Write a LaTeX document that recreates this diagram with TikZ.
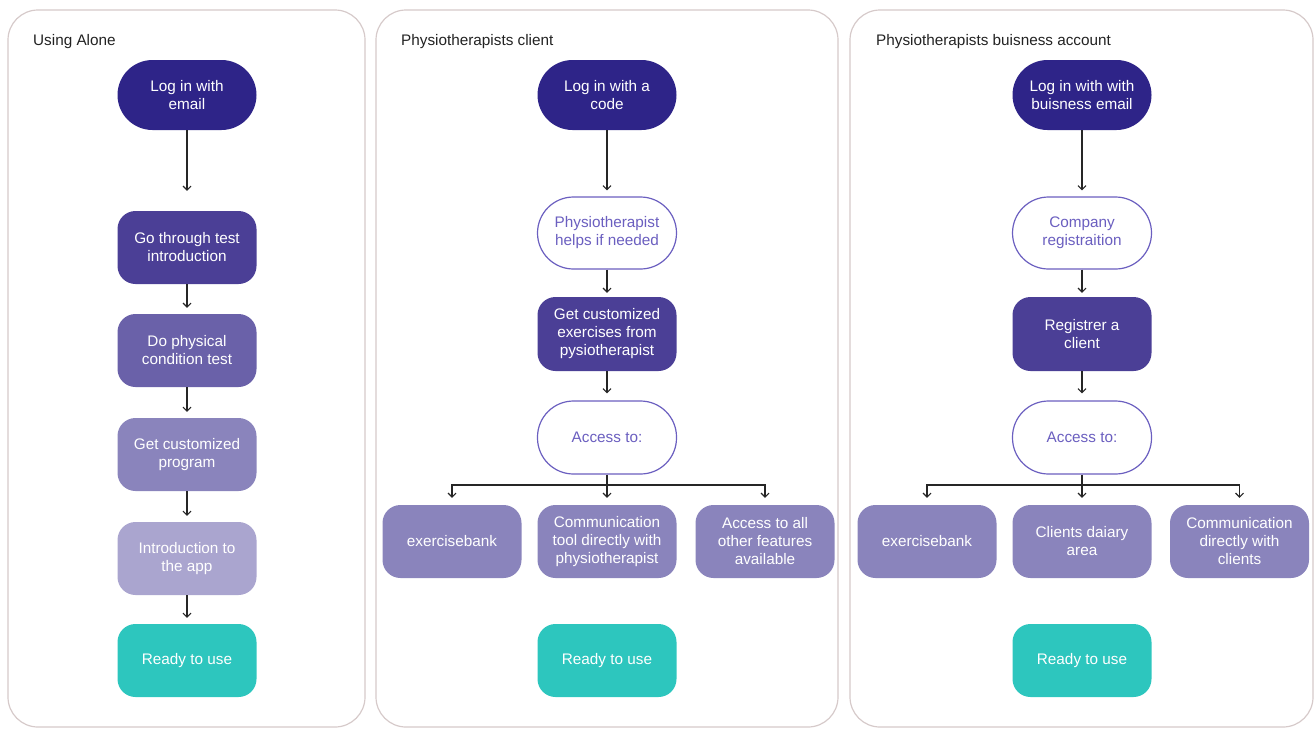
\documentclass[tikz,border=0pt]{standalone}
\usepackage{fontspec}
\setmainfont{Liberation Sans}
\usetikzlibrary{arrows.meta}
\definecolor{panelline}{HTML}{D6CACA}
\definecolor{navy}{HTML}{2E2488}
\definecolor{violetA}{HTML}{4B3F96}
\definecolor{violetB}{HTML}{6A61A9}
\definecolor{violetC}{HTML}{8A84BC}
\definecolor{violetD}{HTML}{AAA5CF}
\definecolor{teal}{HTML}{2DC6BE}
\definecolor{outlinec}{HTML}{6B5FC0}
\definecolor{titletext}{HTML}{222222}
\newcommand{\boxfont}{\fontsize{15.3}{18}\selectfont}
\tikzset{
  panel/.style={draw=panelline, line width=1.2pt, rounded corners=30pt},
  paneltitle/.style={anchor=base west, inner sep=0pt, text=titletext, font=\boxfont},
  boxbase/.style={minimum width=139pt, minimum height=73pt, inner sep=0pt,
    align=center, text=white, font=\boxfont},
  pill/.style={boxbase, minimum height=70pt, rounded corners=35pt, fill=navy},
  card/.style={boxbase, rounded corners=18pt},
  hollow/.style={boxbase, minimum height=72pt, rounded corners=36pt, draw=outlinec,
    line width=1.2pt, fill=white, text=outlinec},
  arr/.style={draw=black!85, line width=1.1pt, -{Straight Barb[length=4pt,width=8pt]}},
  link/.style={draw=black!85, line width=1.1pt},
}
\begin{document}
\begin{tikzpicture}[x=1pt,y=-1pt]
\useasboundingbox (0,0) rectangle (1314,729);

% three column frames
\draw[panel] (8,10) rectangle (365,727);
\draw[panel] (376,10) rectangle (838,727);
\draw[panel] (850,10) rectangle (1313,727);

\node[paneltitle] (t1) at (33,45) {Using Alone};
\node[paneltitle] (t2) at (401,45) {Physiotherapists client};
\node[paneltitle] (t3) at (876,45) {Physiotherapists buisness account};

% --- column 1: using the app alone
\node[pill] (a1) at (187,95) {Log in with\\email};
\node[card, fill=violetA] (a2) at (187,247.5) {Go through test\\introduction};
\node[card, fill=violetB] (a3) at (187,350.5) {Do physical\\condition test};
\node[card, fill=violetC] (a4) at (187,454.5) {Get customized\\program};
\node[card, fill=violetD] (a5) at (187,558.5) {Introduction to\\the app};
\node[card, fill=teal] (a6) at (187,660.5) {Ready to use};

\draw[arr, shorten >=20pt] (a1) -- (a2);
\draw[arr, shorten >=6pt] (a2) -- (a3);
\draw[arr, shorten >=6pt] (a3) -- (a4);
\draw[arr, shorten >=6pt] (a4) -- (a5);
\draw[arr, shorten >=6pt] (a5) -- (a6);

% --- column 2: client of a physiotherapist
\node[pill] (b1) at (607,95) {Log in with a\\code};
\node[hollow] (b2) at (607,233) {Physiotherapist\\helps if needed};
\node[card, fill=violetA, minimum height=74pt] (b3) at (607,334) {Get customized\\exercises from\\pysiotherapist};
\node[hollow, minimum height=73pt] (b4) at (607,437.5) {Access to:};
\node[card, fill=violetC] (b5) at (452,541.5) {exercisebank};
\node[card, fill=violetC] (b6) at (607,541.5) {Communication\\tool directly with\\physiotherapist};
\node[card, fill=violetC] (b7) at (765,541.5) {Access to all\\other features\\available};
\node[card, fill=teal] (b8) at (607,660.5) {Ready to use};
\coordinate (bj) at (607,485);

\draw[arr, shorten >=6pt] (b1) -- (b2);
\draw[arr, shorten >=4pt] (b2) -- (b3);
\draw[arr, shorten >=7pt] (b3) -- (b4);
\draw[link] (b4) -- (bj);
\draw[arr, shorten >=7pt] (bj) -| (b5);
\draw[arr, shorten >=7pt] (bj) -- (b6);
\draw[arr, shorten >=7pt] (bj) -| (b7);

% --- column 3: physiotherapist business account
\node[pill] (c1) at (1082,95) {Log in with with\\buisness email};
\node[hollow] (c2) at (1082,233) {Company\\registraition};
\node[card, fill=violetA, minimum height=74pt] (c3) at (1082,334) {Registrer a\\client};
\node[hollow, minimum height=73pt] (c4) at (1082,437.5) {Access to:};
\node[card, fill=violetC] (c5) at (927,541.5) {exercisebank};
\node[card, fill=violetC] (c6) at (1082,541.5) {Clients daiary\\area};
\node[card, fill=violetC] (c7) at (1239.5,541.5) {Communication\\directly with\\clients};
\node[card, fill=teal] (c8) at (1082,660.5) {Ready to use};
\coordinate (cj) at (1082,485);

\draw[arr, shorten >=6pt] (c1) -- (c2);
\draw[arr, shorten >=4pt] (c2) -- (c3);
\draw[arr, shorten >=7pt] (c3) -- (c4);
\draw[link] (c4) -- (cj);
\draw[arr, shorten >=7pt] (cj) -| (c5);
\draw[arr, shorten >=7pt] (cj) -- (c6);
\draw[arr, shorten >=7pt] (cj) -| (c7);
\end{tikzpicture}
\end{document}
